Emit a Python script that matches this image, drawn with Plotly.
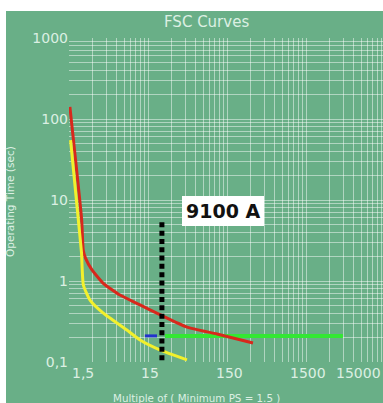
import math
import plotly.graph_objects as go

# ---- data ----
red_x = [1.54, 2.17, 2.27, 2.42, 2.93, 4.04, 6.63, 11.9, 21.2, 46.7, 112, 320]
red_y = [141, 5.66, 2.41, 1.93, 1.37, 0.944, 0.671, 0.506, 0.385, 0.270, 0.222, 0.172]

yellow_x = [1.57, 1.97, 2.16, 2.28, 2.77, 4.04, 8.1, 11.9, 21.2, 46.7]
yellow_y = [55, 5.66, 2.22, 0.893, 0.58, 0.403, 0.248, 0.187, 0.141, 0.106]

green_x = [24.6, 4400]
green_y = [0.209, 0.209]

blue_x = [13.7, 19.5]
blue_y = [0.21, 0.21]

marker_x = [22.5, 22.5]
marker_y = [5.3, 0.1]

x_ticks = [1.5, 15, 150, 1500, 15000]
x_tick_text = ["1,5", "15", "150", "1500", "15000"]
y_ticks = [0.1, 1, 10, 100, 1000]
y_tick_text = ["0,1", "1", "10", "100", "1000"]

label_text = "9100 A"
title_text = "FSC Curves"
x_title = "Multiple of ( Minimum PS = 1.5 )"
y_title = "Operating Time (sec)"

BG = "#69af87"
GRID = "rgba(255,255,255,0.48)"
TXT = "#dcefe3"
FONT = "DejaVu Sans"

x_minor = [b * k for b in [1.5, 15, 150, 1500] for k in range(2, 10)]
y_minor = [b * k for b in [0.1, 1, 10, 100] for k in range(2, 10)]

fig = go.Figure()
fig.add_trace(go.Scatter(x=green_x, y=green_y, mode="lines",
                         line=dict(color="#33e833", width=4), hoverinfo="skip"))
fig.add_trace(go.Scatter(x=blue_x, y=blue_y, mode="lines",
                         line=dict(color="#2233cc", width=3), hoverinfo="skip"))
fig.add_trace(go.Scatter(x=red_x, y=red_y, mode="lines",
                         line=dict(color="#d8281c", width=3, shape="spline", smoothing=0.5),
                         hoverinfo="skip"))
fig.add_trace(go.Scatter(x=yellow_x, y=yellow_y, mode="lines",
                         line=dict(color="#f2f02c", width=3, shape="spline", smoothing=0.5),
                         hoverinfo="skip"))
fig.add_trace(go.Scatter(x=marker_x, y=marker_y, mode="lines",
                         line=dict(color="#000000", width=5, dash="5px,3.3px"),
                         hoverinfo="skip"))

x0 = math.log10(1.5)
fig.update_xaxes(type="log", range=[x0, x0 + 314 / 79.0], automargin=False,
                 tickmode="array", tickvals=x_ticks, showticklabels=False,
                 showgrid=True, gridcolor=GRID, gridwidth=1, zeroline=False,
                 showline=False, ticks="",
                 minor=dict(tickmode="array", tickvals=x_minor, showgrid=True,
                            gridcolor=GRID, gridwidth=1, ticks=""))
fig.update_yaxes(type="log", range=[-1, 3], automargin=False,
                 tickmode="array", tickvals=y_ticks, ticktext=y_tick_text,
                 tickfont=dict(family=FONT, size=14, color=TXT),
                 showgrid=True, gridcolor=GRID, gridwidth=1, zeroline=False,
                 showline=False, ticks="",
                 minor=dict(tickmode="array", tickvals=y_minor, showgrid=True,
                            gridcolor=GRID, gridwidth=1, ticks=""))

annotations = []
# x tick labels
ty = (362 - 373) / 324.0
for v, t in zip(x_ticks, x_tick_text):
    if t == "1,5":
        annotations.append(dict(x=math.log10(v), xref="x", y=ty, yref="paper", text=t,
                                showarrow=False, xanchor="left", yanchor="middle",
                                xshift=1, font=dict(family=FONT, size=14, color=TXT)))
    elif t == "15000":
        annotations.append(dict(x=1.0, xref="paper", y=ty, yref="paper",
                                text=t, showarrow=False, xanchor="right", yanchor="middle",
                                font=dict(family=FONT, size=14, color=TXT)))
    else:
        annotations.append(dict(x=math.log10(v), xref="x", y=ty, yref="paper", text=t,
                                showarrow=False, xanchor="center", yanchor="middle",
                                xshift=2, font=dict(family=FONT, size=14, color=TXT)))

annotations.append(dict(x=(206 - 69) / 314.0, xref="paper", y=(362 - 21.5) / 324.0,
                        yref="paper", text=title_text, showarrow=False,
                        xanchor="center", yanchor="middle",
                        font=dict(family=FONT, size=15, color=TXT)))
annotations.append(dict(x=(196 - 69) / 314.0, xref="paper", y=(362 - 398) / 324.0,
                        yref="paper", text=x_title, showarrow=False,
                        xanchor="center", yanchor="middle",
                        font=dict(family=FONT, size=10.3, color=TXT)))
annotations.append(dict(x=(10 - 69) / 314.0, xref="paper", y=(362 - 201) / 324.0,
                        yref="paper", text=y_title, showarrow=False, textangle=-90,
                        xanchor="center", yanchor="middle",
                        font=dict(family=FONT, size=10.5, color=TXT)))
annotations.append(dict(x=math.log10(133), xref="x", y=math.log10(7.3), yref="y",
                        text="<b>" + label_text + "</b>", showarrow=False,
                        xanchor="center", yanchor="middle", bgcolor="#ffffff",
                        borderpad=4, borderwidth=0,
                        font=dict(family="DejaVu Sans", size=19, color="#111111")))

fig.update_layout(
    width=383, height=403,
    margin=dict(l=69, r=0, t=38, b=41, pad=0),
    paper_bgcolor="#ffffff", plot_bgcolor=BG,
    showlegend=False,
    annotations=annotations,
    shapes=[dict(type="rect", xref="paper", yref="paper",
                 x0=(6 - 69) / 314.0, x1=1.2, y0=-0.3, y1=(362 - 11) / 324.0,
                 fillcolor=BG, line=dict(width=0), layer="below")],
)

fig.write_html("out.html", config={"displayModeBar": False})

# remove the browser's default page margin so the figure sits at the top-left
with open("out.html", "r", encoding="utf-8") as f:
    html = f.read()
html = html.replace("<head>", "<head><style>html,body{margin:0;padding:0;overflow:hidden;}</style>", 1)
with open("out.html", "w", encoding="utf-8") as f:
    f.write(html)
